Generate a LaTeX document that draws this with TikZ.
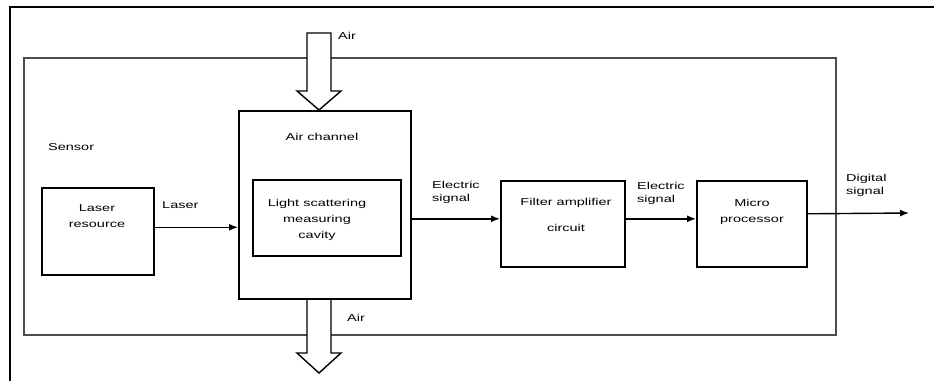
\documentclass[tikz,border=0pt]{standalone}
\usepackage{fontspec}
\setmainfont[FakeStretch=1.45]{Liberation Sans}
\usepackage{tikz}
\usetikzlibrary{positioning,arrows.meta}

\begin{document}
\begin{tikzpicture}[
    x=1pt, y=-1pt,
    box/.style={draw, line width=1.6pt, anchor=north west, inner sep=0pt},
    txt/.style={font=\fontsize{10}{16}\selectfont, align=center, inner sep=1pt},
    ltxt/.style={font=\fontsize{10}{13}\selectfont, align=left, anchor=west, inner sep=1pt},
    arrow/.style={-{Latex[length=9pt,width=7pt]}, line width=1.4pt},
    airarrow/.style={draw, line width=1.4pt, fill=white}
]
\useasboundingbox (0,0) rectangle (934,381);
% frame of the page
\draw[line width=2.2pt] (934,7) -- (10,7) -- (10,381);
% sensor housing
\node[box, draw=black!70, line width=1.8pt, minimum width=812, minimum height=277] (sensor) at (23,57) {};
\node[txt, anchor=west] (sensortxt) at (47,147) {Sensor};
% air in / out
\draw[airarrow] (307,33) -- (331,33) -- (331,91) -- (341,91) -- (319,110) -- (297,91) -- (307,91) -- cycle;
\draw[airarrow] (307,298) -- (331,298) -- (331,353) -- (341,353) -- (319,373) -- (297,353) -- (307,353) -- cycle;
\node[txt, anchor=west] (airin)  at (337,36) {Air};
\node[txt, anchor=west] (airout) at (346,318) {Air};
% blocks
\node[box, minimum width=112, minimum height=87] (laser)   at (41,187) {};
\node[box, minimum width=172, minimum height=188, fill=white] (channel) at (238,110) {};
\node[box, minimum width=148, minimum height=76] (cavity)  at (252,179) {};
\node[box, minimum width=124, minimum height=86] (filter)  at (500,180) {};
\node[box, minimum width=110, minimum height=86] (micro)   at (696,180) {};
% block texts
\node[txt] (lasertxt)   at (97,216)  {Laser\\resource};
\node[txt] (channeltxt) at (322,137) {Air channel};
\node[txt] (cavitytxt)  at (317,220) {Light scattering\\measuring\\cavity};
\node[txt, font=\fontsize{10}{26}\selectfont] (filtertxt) at (566,215) {Filter amplifier\\circuit};
\node[txt] (microtxt)   at (752,212) {Micro\\processor};
% signals
\coordinate (dout) at (909,213);
\draw[arrow] ([yshift=4pt]laser.east) -- ([yshift=4pt]laser.east -| channel.west);
\draw[arrow] ([yshift=5pt]filter.west -| channel.east) -- ([yshift=5pt]filter.west);
\draw[arrow] ([yshift=5pt]micro.west -| filter.east) -- ([yshift=5pt]micro.west);
\draw[arrow] ([yshift=10pt]micro.east) -- (dout);
\node[ltxt] (lasersig) at (161,205) {Laser};
\node[ltxt] (elsig1)   at (431,192) {Electric\\signal};
\node[ltxt] (elsig2)   at (636,193) {Electric\\signal};
\node[ltxt] (digsig)   at (845,185) {Digital\\signal};
\end{tikzpicture}
\end{document}
